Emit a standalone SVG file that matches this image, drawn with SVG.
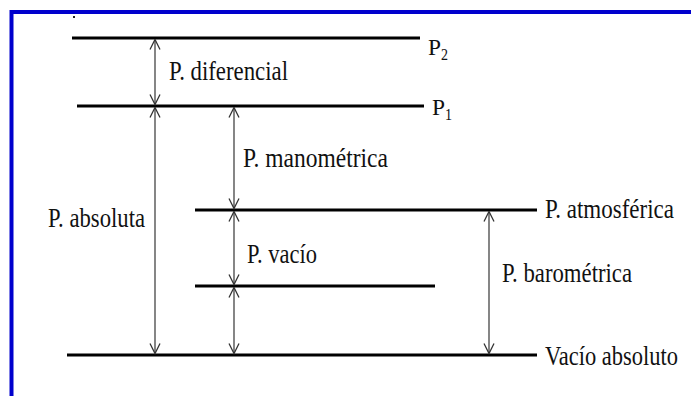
<svg xmlns="http://www.w3.org/2000/svg" width="691" height="396" viewBox="0 0 691 396">
<defs>
<marker id="ah" viewBox="0 0 12 12" refX="11" refY="6" markerWidth="12" markerHeight="12" markerUnits="userSpaceOnUse" orient="auto-start-reverse">
<path d="M1,1 L11,6 L1,11" fill="none" stroke="#333" stroke-width="1.3"/>
</marker>
</defs>
<style>
.lvl{stroke:#000;stroke-width:3;fill:none}
.arr{stroke:#444;stroke-width:1.3;fill:none;marker-start:url(#ah);marker-end:url(#ah)}
.t{font-family:'Liberation Serif','Times New Roman','DejaVu Serif',serif;fill:#111;font-size:27px}
.p{font-size:23px}
.sub{font-size:16px}
</style>
<rect x="0" y="0" width="691" height="396" fill="#fff"/>
<rect x="11.5" y="12" width="700" height="400" fill="none" stroke="#0000CD" stroke-width="4"/>
<rect x="73" y="16" width="2" height="2" fill="#222"/>
<g id="p2">
<line class="lvl" x1="72" y1="38" x2="420" y2="38"/>
<text class="t p" x="428" y="55" textLength="13" lengthAdjust="spacingAndGlyphs">P</text>
<text class="t sub" x="441" y="60" textLength="7" lengthAdjust="spacingAndGlyphs">2</text>
</g>
<g id="p1">
<line class="lvl" x1="77" y1="106" x2="424" y2="106"/>
<text class="t p" x="432" y="115" textLength="13" lengthAdjust="spacingAndGlyphs">P</text>
<text class="t sub" x="445" y="120" textLength="7" lengthAdjust="spacingAndGlyphs">1</text>
</g>
<g id="atm">
<line class="lvl" x1="195" y1="210" x2="537" y2="210"/>
<text class="t" x="545" y="218" textLength="129" lengthAdjust="spacingAndGlyphs">P. atmosférica</text>
</g>
<g id="vac">
<line class="lvl" x1="195" y1="286" x2="435" y2="286"/>
</g>
<g id="abs0">
<line class="lvl" x1="67" y1="355" x2="537" y2="355"/>
<text class="t" x="545" y="365" textLength="133" lengthAdjust="spacingAndGlyphs">Vacío absoluto</text>
</g>
<g id="connectors">
<line class="arr" x1="155" y1="39.5" x2="155" y2="104.5"/>
<line class="arr" x1="155" y1="107.5" x2="155" y2="353.5"/>
<line class="arr" x1="234" y1="107.5" x2="234" y2="208.5"/>
<line class="arr" x1="234" y1="211.5" x2="234" y2="284.5"/>
<line class="arr" x1="234" y1="287.5" x2="234" y2="353.5"/>
<line class="arr" x1="489" y1="211.5" x2="489" y2="353.5"/>
</g>
<g id="labels">
<text class="t" x="169" y="80" textLength="119" lengthAdjust="spacingAndGlyphs">P. diferencial</text>
<text class="t" x="243" y="167" textLength="145" lengthAdjust="spacingAndGlyphs">P. manométrica</text>
<text class="t" x="48" y="227" textLength="97" lengthAdjust="spacingAndGlyphs">P. absoluta</text>
<text class="t" x="247" y="263" textLength="70" lengthAdjust="spacingAndGlyphs">P. vacío</text>
<text class="t" x="502" y="282" textLength="130" lengthAdjust="spacingAndGlyphs">P. barométrica</text>
</g>
</svg>
